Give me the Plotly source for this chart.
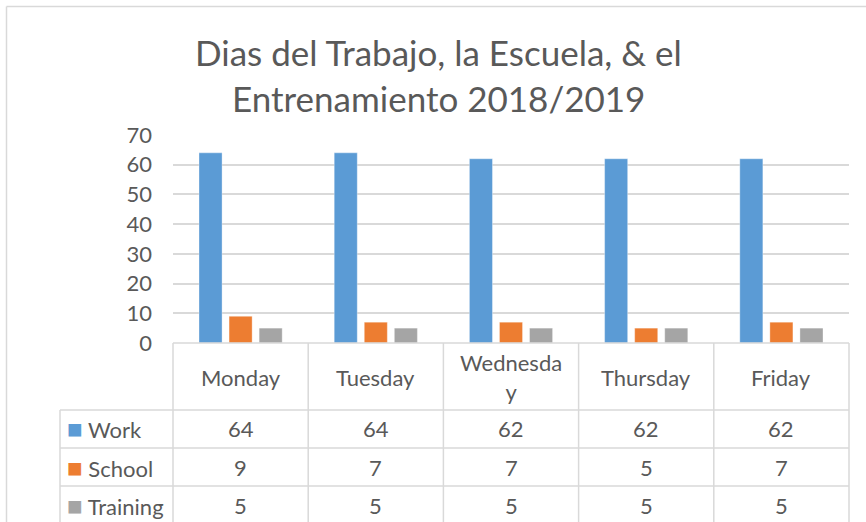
import plotly.graph_objects as go

# ---- data ----
days = ["Monday", "Tuesday", "Wednesday", "Thursday", "Friday"]
day_labels = ["Monday", "Tuesday", "Wednesda<br>y", "Thursday", "Friday"]
series_names = ["Work", "School", "Training"]
work = [64, 64, 62, 62, 62]
school = [9, 7, 7, 5, 7]
training = [5, 5, 5, 5, 5]
y_ticks = [0, 10, 20, 30, 40, 50, 60, 70]
title_lines = ["Dias del Trabajo, la Escuela, & el", "Entrenamiento 2018/2019"]

colors = ["#5B9BD5", "#ED7D31", "#A5A5A5"]
values = [work, school, training]
TXT = "#595959"
GRID = "#D9D9D9"
FONT = "Lato"

W, H = 866, 522
L, R, T, B = 173, 17, 135, 179
PW, PH = W - L - R, H - T - B


def py(p):
    return (H - B - p) / PH


def px(p):
    return (p - L) / PW


fig = go.Figure()
for name, vals, col in zip(series_names, values, colors):
    fig.add_trace(go.Bar(
        x=days, y=vals, name=name,
        marker=dict(color=col, line=dict(color="rgba(255,255,255,0.35)", width=1)),
    ))

xr = [-0.5, len(days) - 0.5]


def xpaper(v):
    return (v - xr[0]) / (xr[1] - xr[0])


shapes = []
line = dict(color=GRID, width=1.5)
# outer chart frame (left + top)
shapes.append(dict(type="line", xref="paper", yref="paper", x0=px(6.5), x1=px(900), y0=py(6.5), y1=py(6.5), line=line))
shapes.append(dict(type="line", xref="paper", yref="paper", x0=px(6.5), x1=px(6.5), y0=py(6.5), y1=py(540), line=line))
# data table: vertical lines at category boundaries
for i in range(len(days) + 1):
    xv = xpaper(i - 0.5)
    shapes.append(dict(type="line", xref="paper", yref="paper", x0=xv, x1=xv, y0=py(343), y1=py(540), line=line))
# header top line
shapes.append(dict(type="line", xref="paper", yref="paper", x0=0, x1=1, y0=0, y1=0, line=line))
# left legend column
shapes.append(dict(type="line", xref="paper", yref="paper", x0=px(60), x1=px(60), y0=py(410), y1=py(540), line=line))
row_lines = [410, 448, 486]
for r in row_lines:
    shapes.append(dict(type="line", xref="paper", yref="paper", x0=px(60), x1=1, y0=py(r), y1=py(r), line=line))

ann = []
# title
for k, t in enumerate(title_lines):
    ann.append(dict(text=t, xref="paper", yref="paper", x=px(438), y=py(52 + 46 * k),
                    xanchor="center", yanchor="middle", showarrow=False,
                    font=dict(family=FONT, size=35, color=TXT)))
# header row
for d, lab in zip(days, day_labels):
    ann.append(dict(text=lab, xref="x", yref="paper", x=d, y=py(377), xanchor="center", yanchor="middle",
                    showarrow=False, font=dict(family=FONT, size=22, color=TXT)))
row_centers = [428, 467, 505]
for name, vals, col, yc in zip(series_names, values, colors, row_centers):
    ann.append(dict(text="<span style='color:%s;font-size:26px'>■</span> %s" % (col, name), xref="paper", yref="paper",
                    x=px(65), y=py(yc), xanchor="left", yanchor="middle", showarrow=False,
                    font=dict(family=FONT, size=22, color=TXT)))
    for d, v in zip(days, vals):
        ann.append(dict(text=str(v), xref="x", yref="paper", x=d, y=py(yc), xanchor="center", yanchor="middle",
                        showarrow=False, font=dict(family=FONT, size=22, color=TXT)))

fig.update_layout(
    width=W, height=H,
    margin=dict(l=L, r=R, t=T, b=B),
    paper_bgcolor="white", plot_bgcolor="white",
    showlegend=False,
    barmode="group", bargap=0.333, bargroupgap=0.233,
    xaxis=dict(range=xr, showticklabels=False, showgrid=False, zeroline=False, showline=False, fixedrange=True),
    yaxis=dict(range=[0, 70], tickvals=y_ticks, showgrid=True, gridcolor=GRID, gridwidth=1.5,
               zeroline=False, showline=False, ticks="", ticklabelstandoff=20,
               tickfont=dict(family=FONT, size=22, color=TXT)),
    shapes=shapes, annotations=ann,
)

fig.write_html("out.html", config={"displayModeBar": False},
               post_script="document.body.style.margin='0';document.body.style.overflow='hidden';")
